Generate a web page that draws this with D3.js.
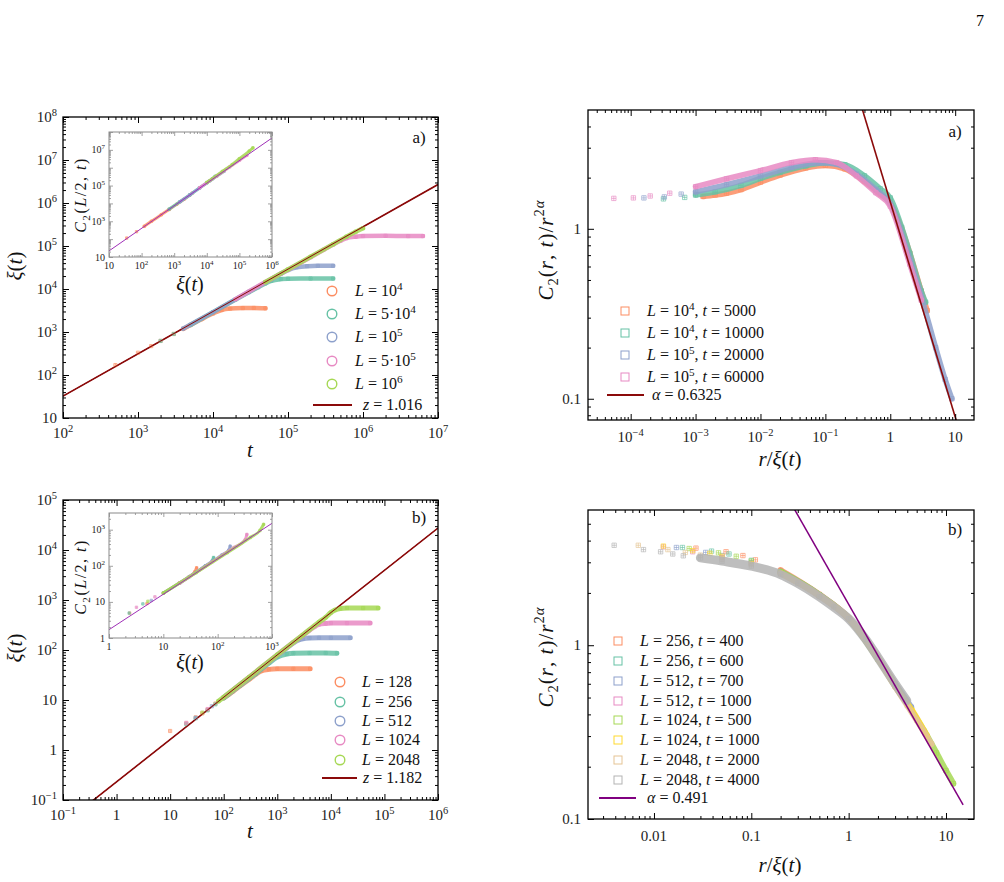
<!DOCTYPE html>
<html>
<head>
<meta charset="utf-8">
<script src="https://cdn.jsdelivr.net/npm/d3@7"></script>
<style>
  html, body { margin: 0; padding: 0; background: #fff; }
  svg { display: block; }
  svg text { font-family: "Liberation Serif", "Times New Roman", "DejaVu Serif", serif; }
</style>
</head>
<body>
<script>
// Set2-like palette, in the order the legends use it
var COLORS = ['#fc8d62', '#66c2a5', '#8da0cb', '#e78ac3', '#a6d854', '#ffd92f', '#e5c494', '#b3b3b3'];

// ---- panel a), left: xi(t) vs t ----
var tlLabels = ['*L* = 10^{4}', '*L* = 5·10^{4}', '*L* = 10^{5}', '*L* = 5·10^{5}', '*L* = 10^{6}'];
var tlL1e4 = [[500,170],[1000,330],[1500,470],[2000,620],[3000,900],[4000,1180],[5000,1450],[7000,1980],[10000,2700],[13000,3250],[17000,3500],[25000,3600],[35000,3620],[50000,3550]];
var tlL5e4 = [[2000,620],[3000,900],[5000,1460],[10000,2900],[20000,5700],[30000,8400],[40000,11000],[50000,13500],[60000,15500],[80000,17000],[100000,17400],[200000,17500],[400000,17500]];
var tlL1e5 = [[4000,1200],[10000,2900],[30000,8600],[60000,17000],[80000,22500],[100000,27500],[130000,32000],[180000,34000],[250000,34500],[400000,34500]];
var tlL5e5 = [[20000,5800],[50000,14500],[100000,28000],[200000,55000],[300000,82000],[400000,108000],[500000,132000],[600000,152000],[800000,165000],[1000000,170000],[2000000,172000],[4000000,170000],[6300000,170000]];
var tlL1e6 = [[50000,14500],[100000,28500],[200000,56000],[400000,110000],[600000,165000],[800000,215000],[1000000,260000]];
var tlFit = { z: 1.016, amp: 0.347 };

// inset of a): C2(L/2,t) vs xi(t)
var tiL1e4 = [[35,115],[70,260],[120,520],[200,1000],[400,2300],[700,4600],[1200,9000],[2000,17000],[3000,29000],[3600,38000]];
var tiL5e4 = [[700,4800],[1500,12500],[3000,30000],[6000,74000],[10000,140000],[15000,240000],[18000,330000]];
var tiL1e5 = [[1500,12500],[3000,30000],[6000,74000],[12000,180000],[20000,330000],[34000,640000]];
var tiL5e5 = [[6000,75000],[20000,340000],[50000,1100000],[100000,2600000],[170000,5000000]];
var tiL1e6 = [[10000,150000],[30000,620000],[60000,1500000],[100000,3200000],[200000,8500000],[260000,13000000]];
var tiFit = { alpha: 0.6325, amp: 1.19 };

// ---- panel a), right: C2(r,t)/r^2a vs r/xi ----
var trLabels = ['*L* = 10^{4}, *t* = 5000', '*L* = 10^{4}, *t* = 10000', '*L* = 10^{5}, *t* = 20000', '*L* = 10^{5}, *t* = 60000'];
var trS1 = [[0.0013,1.55],[0.002,1.58],[0.003,1.62],[0.005,1.7],[0.01,1.88],[0.02,2.07],[0.05,2.28],[0.1,2.36],[0.2,2.25],[0.4,1.9],[0.7,1.6],[1,1.42],[1.5,1.0],[2,0.72],[3,0.43],[3.7,0.33]];
var trS2 = [[0.00032,1.5],[0.00068,1.53],[0.001,1.58],[0.002,1.65],[0.005,1.8],[0.01,1.98],[0.02,2.15],[0.05,2.35],[0.1,2.45],[0.2,2.38],[0.4,2.05],[0.7,1.72],[1,1.52],[1.5,1.02],[2,0.72],[3,0.43],[3.5,0.37]];
var trS3 = [[0.00016,1.52],[0.00033,1.54],[0.0006,1.6],[0.001,1.65],[0.003,1.82],[0.01,2.05],[0.03,2.3],[0.08,2.45],[0.15,2.4],[0.3,2.1],[0.6,1.7],[1,1.4],[2,0.66],[3,0.4],[5,0.2],[7,0.13],[8.9,0.1]];
var trS4 = [[0.000055,1.51],[0.00011,1.52],[0.0002,1.56],[0.0004,1.62],[0.001,1.77],[0.003,1.97],[0.01,2.2],[0.03,2.45],[0.07,2.55],[0.15,2.45],[0.3,2.05],[0.6,1.63],[1,1.36],[2,0.62],[3,0.38]];
var trFit = { alpha: 0.6325, amp: 1.44 };

// ---- panel b), left ----
var blLabels = ['*L* = 128', '*L* = 256', '*L* = 512', '*L* = 1024', '*L* = 2048'];
var blL128 = [[10,2.4],[20,3.4],[30,4.5],[40,5.4],[50,6.4],[70,8.5],[100,11],[150,15],[200,19],[300,26],[400,33],[500,38],[700,41],[1000,42],[2000,42],[4100,42]];
var blL256 = [[20,3.3],[30,4.3],[50,6.2],[70,8.2],[100,11],[200,19.5],[400,34],[700,55],[1000,72],[1500,83],[2000,86],[4000,87],[8000,87],[13000,86]];
var blL512 = [[30,4.4],[60,7.5],[100,11.2],[300,28],[1000,78],[1500,110],[2000,138],[2500,158],[3000,168],[4000,174],[6000,175],[10000,175],[23000,175]];
var blL1024 = [[20,3.5],[50,6.6],[100,11.3],[300,28.5],[1000,80],[2000,142],[3000,198],[4000,250],[5000,295],[6000,325],[8000,340],[10000,345],[20000,345],[54000,345]];
var blL2048 = [[40,5.6],[80,9.5],[100,11.4],[300,28.5],[1000,80],[3000,200],[6000,360],[8000,450],[10000,560],[12000,630],[15000,675],[20000,690],[40000,690],[76000,690]];
var blFit = { z: 1.182, amp: 0.231 };

var biL128 = [[2.4,4.9],[5,9],[10,17.5],[20,34],[30,50],[38,68],[41,88]];
var biL256 = [[2.35,4.9],[4.2,8.8],[10,17.5],[30,50],[60,100],[80,140],[84,170]];
var biL512 = [[6,11],[20,33],[60,100],[120,200],[160,270],[170,350]];
var biL1024 = [[3.2,7.1],[7,13.8],[20,33],[80,130],[200,320],[320,520],[345,740]];
var biL2048 = [[5.2,10.4],[10,17.5],[40,64],[150,230],[400,610],[600,950],[700,1400]];
var biFit = { alpha: 0.491, amp: 1.7 };

// ---- panel b), right ----
var brLabels = ['*L* = 256, *t* = 400', '*L* = 256, *t* = 600', '*L* = 512, *t* = 700', '*L* = 512, *t* = 1000',
  '*L* = 1024, *t* = 500', '*L* = 1024, *t* = 1000', '*L* = 2048, *t* = 2000', '*L* = 2048, *t* = 4000'];
var brS1 = [[0.027,3.62],[0.055,3.45],[0.082,3.28],[0.11,3.1],[0.2,2.7],[0.5,1.96],[1,1.44],[2,0.85],[3,0.6],[3.5,0.52]];
var brS2 = [[0.0196,3.65],[0.039,3.48],[0.059,3.35],[0.1,3.08],[0.2,2.65],[0.5,1.95],[1,1.43],[2,0.84],[2.5,0.7]];
var brS3 = [[0.017,3.65],[0.034,3.42],[0.05,3.28],[0.1,2.98],[0.2,2.62],[0.5,1.93],[1,1.42],[2,0.84],[3,0.6],[4.4,0.44]];
var brS4 = [[0.0125,3.68],[0.025,3.45],[0.05,3.2],[0.1,2.95],[0.2,2.6],[0.5,1.93],[1,1.42],[2,0.84],[3.2,0.56]];
var brS5 = [[0.023,3.6],[0.046,3.4],[0.07,3.25],[0.1,3.05],[0.2,2.65],[0.5,1.95],[1,1.43],[2,0.83],[4,0.46],[6,0.32],[8,0.24],[10,0.19],[11.9,0.16]];
var brS6 = [[0.0125,3.72],[0.025,3.5],[0.0375,3.38],[0.05,3.25],[0.1,2.95],[0.2,2.6],[0.5,1.93],[1,1.43],[2,0.84],[3,0.58],[4.5,0.42],[6.4,0.3]];
var brS7 = [[0.0069,3.76],[0.0139,3.55],[0.021,3.42],[0.03,3.3],[0.05,3.12],[0.1,2.9],[0.2,2.58],[0.3,2.3],[0.5,1.92],[1,1.43],[2,0.84],[3,0.58],[4,0.45],[5,0.37],[7.1,0.27]];
var brS8 = [[0.0039,3.76],[0.0078,3.55],[0.0117,3.45],[0.0156,3.35],[0.02,3.27],[0.03,3.18],[0.05,3.05],[0.1,2.85],[0.2,2.55],[0.3,2.27],[0.5,1.9],[0.7,1.66],[1,1.42],[1.5,1.08],[2,0.85],[3,0.6],[3.95,0.48]];
var brFit = { alpha: 0.491, amp: 1.72 };

var FIT_RED = '#8b0a0a', FIT_PURPLE = '#800080', FIT_INSET = '#a030b8';
var MARK = 'M-2,-2h4v4h-4zM0,-2v4M-2,0h4';

var svg = d3.select('body').append('svg')
  .attr('width', 1004).attr('height', 882);
var defs = svg.append('defs');
var clipN = 0;

// tiny markup: *italic*, ^{sup}, _{sub}
function rich(sel, s, fs) {
  var cur = 0;
  function piece(txt, it, off, size) {
    var t = sel.append('tspan').text(txt);
    if (it) t.attr('font-style', 'italic');
    if (size) t.attr('font-size', size);
    if (off !== cur) { t.attr('dy', off - cur); cur = off; }
  }
  function inner(str, off, size) {
    str.split(/(\*[^*]+\*)/).forEach(function (p) {
      if (!p) return;
      if (p[0] === '*') piece(p.slice(1, -1), true, off, size);
      else piece(p, false, off, size);
    });
  }
  s.split(/(\^\{[^}]*\}|_\{[^}]*\})/).forEach(function (p) {
    if (!p) return;
    if (p.indexOf('^{') === 0) inner(p.slice(2, -1), -fs * 0.42, fs * 0.7);
    else if (p.indexOf('_{') === 0) inner(p.slice(2, -1), fs * 0.25, fs * 0.7);
    else inner(p, 0, null);
  });
}

function expFmt(plain) {
  return function (v) {
    var e = Math.round(Math.log10(v));
    if (plain[e] !== undefined) return plain[e];
    return '10^{' + (e < 0 ? '\u2212' + (-e) : e) + '}';
  };
}

function decades(d) {
  var out = [];
  for (var e = Math.ceil(Math.log10(d[0]) - 1e-9); e <= Math.floor(Math.log10(d[1]) + 1e-9); e++) out.push(Math.pow(10, e));
  return out;
}
function minors(d) {
  var out = [];
  for (var e = Math.floor(Math.log10(d[0])); e < Math.ceil(Math.log10(d[1])); e++) {
    for (var k = 2; k <= 9; k++) {
      var v = k * Math.pow(10, e);
      if (v > d[0] * 1.0001 && v < d[1] * 0.9999) out.push(v);
    }
  }
  return out;
}

function makePanel(c) {
  var x = d3.scaleLog().domain(c.xd).range([c.left, c.left + c.w]);
  var y = d3.scaleLog().domain(c.yd).range([c.top + c.h, c.top]);
  var g = svg.append('g');
  var col = c.color || '#000';
  if (c.bg) g.append('rect').attr('x', c.left).attr('y', c.top).attr('width', c.w).attr('height', c.h).attr('fill', '#fff');

  var id = 'clip' + (++clipN);
  defs.append('clipPath').attr('id', id).append('rect')
    .attr('x', c.left).attr('y', c.top).attr('width', c.w).attr('height', c.h);
  var plot = g.append('g').attr('clip-path', 'url(#' + id + ')');

  var xMaj = c.xMaj || decades(c.xd), yMaj = c.yMaj || decades(c.yd);
  var sides = [
    [d3.axisBottom(x), 'translate(0,' + (c.top + c.h) + ')', xMaj, minors(c.xd)],
    [d3.axisTop(x), 'translate(0,' + c.top + ')', xMaj, minors(c.xd)],
    [d3.axisLeft(y), 'translate(' + c.left + ',0)', yMaj, minors(c.yd)],
    [d3.axisRight(y), 'translate(' + (c.left + c.w) + ',0)', yMaj, minors(c.yd)]
  ];
  sides.forEach(function (s) {
    [[s[2], c.tick], [s[3], c.minor]].forEach(function (tv) {
      var ax = g.append('g').attr('transform', s[1])
        .call(s[0].tickValues(tv[0]).tickSize(-tv[1]).tickSizeOuter(0).tickFormat(''));
      ax.select('.domain').remove();
      ax.selectAll('line').attr('stroke', col).attr('stroke-width', c.tickW || 1);
    });
  });
  g.append('rect').attr('x', c.left).attr('y', c.top).attr('width', c.w).attr('height', c.h)
    .attr('fill', 'none').attr('stroke', col).attr('stroke-width', c.frameW || 1.3);

  (c.xLab || xMaj).forEach(function (v) {
    var t = g.append('text').attr('x', x(v)).attr('y', c.top + c.h + c.xPad)
      .attr('text-anchor', 'middle').attr('font-size', c.fs).attr('fill', '#222');
    rich(t, c.xFmt(v), c.fs);
  });
  (c.yLab || yMaj).forEach(function (v) {
    var t = g.append('text').attr('x', c.left - c.yPad).attr('y', y(v) + c.fs * 0.35)
      .attr('text-anchor', 'end').attr('font-size', c.fs).attr('fill', '#222');
    rich(t, c.yFmt(v), c.fs);
  });
  return { x: x, y: y, plot: plot, g: g };
}

function series(p, data, color, bandFrom, bandW, markScale) {
  var line = d3.line().x(function (d) { return p.x(d[0]); }).y(function (d) { return p.y(d[1]); })
    .curve(d3.curveMonotoneX);
  var dense = data.filter(function (d) { return d[0] >= bandFrom; });
  if (dense.length > 1) {
    p.plot.append('path').attr('d', line(dense)).attr('fill', 'none')
      .attr('stroke', color).attr('stroke-width', bandW).attr('stroke-opacity', 0.85)
      .attr('stroke-linecap', 'round').attr('stroke-linejoin', 'round');
  }
  p.plot.selectAll(null).data(data).enter().append('path')
    .attr('d', MARK)
    .attr('transform', function (d) { return 'translate(' + p.x(d[0]) + ',' + p.y(d[1]) + ') scale(' + markScale + ')'; })
    .attr('fill', 'none').attr('stroke', color).attr('stroke-width', 0.8 / markScale).attr('stroke-opacity', 0.8);
}

function fitLine(p, x0, x1, f, color, w) {
  p.plot.append('path')
    .attr('d', d3.line()([[p.x(x0), p.y(f(x0))], [p.x(x1), p.y(f(x1))]]))
    .attr('stroke', color).attr('stroke-width', w).attr('fill', 'none');
}

function label(x, y, s, fs, rot, anchor) {
  var t = svg.append('text').attr('font-size', fs).attr('fill', '#111')
    .attr('text-anchor', anchor || 'middle');
  if (rot) t.attr('transform', 'translate(' + x + ',' + y + ') rotate(-90)');
  else t.attr('x', x).attr('y', y);
  rich(t, s, fs);
  return t;
}

function legend(items, sx, tx, ys, fs, kind, fitRow) {
  items.forEach(function (it, i) {
    if (kind === 'circle') {
      svg.append('circle').attr('cx', sx).attr('cy', ys[i]).attr('r', 4.8)
        .attr('fill', 'none').attr('stroke', it.color).attr('stroke-width', 1.4);
    } else {
      svg.append('rect').attr('x', sx - 4).attr('y', ys[i] - 4).attr('width', 8).attr('height', 8)
        .attr('fill', 'none').attr('stroke', it.color).attr('stroke-width', 1);
    }
    label(tx, ys[i] + fs * 0.33, it.text, fs, false, 'start');
  });
  svg.append('line').attr('x1', fitRow.x1).attr('x2', fitRow.x2).attr('y1', fitRow.y).attr('y2', fitRow.y)
    .attr('stroke', fitRow.color).attr('stroke-width', 1.8);
  label(fitRow.tx, fitRow.y + fs * 0.33, fitRow.text, fs, false, 'start');
}

// ================= top-left =================
var tl = makePanel({ left: 63, top: 117, w: 375, h: 301, xd: [1e2, 1e7], yd: [10, 1e8],
  tick: 6, minor: 3, fs: 15, xPad: 20, yPad: 6,
  xFmt: expFmt({}), yFmt: expFmt({ 1: '10' }) });
fitLine(tl, 1e2, 1e7, function (t) { return tlFit.amp * Math.pow(t, 1 / tlFit.z); }, FIT_RED, 1.6);
[tlL1e4, tlL5e4, tlL1e5, tlL5e5, tlL1e6].forEach(function (d, i) { series(tl, d, COLORS[i], 4000, 4.5, 0.8); });
fitLine(tl, 1e2, 1e7, function (t) { return tlFit.amp * Math.pow(t, 1 / tlFit.z); }, FIT_RED, 1.0);

var ti = makePanel({ left: 109, top: 132, w: 163, h: 125, xd: [10, 1e6], yd: [10, 1e8], bg: true,
  color: '#8a8a8a', tick: 4, minor: 2, tickW: 0.8, frameW: 1, fs: 10, xPad: 12, yPad: 4,
  yLab: [10, 1e3, 1e5, 1e7],
  xFmt: expFmt({ 1: '10' }), yFmt: expFmt({ 1: '10' }) });
[tiL1e4, tiL5e4, tiL1e5, tiL5e5, tiL1e6].forEach(function (d, i) { series(ti, d, COLORS[i], 100, 3, 0.6); });
fitLine(ti, 10, 1e6, function (v) { return tiFit.amp * Math.pow(v, 2 * tiFit.alpha); }, FIT_INSET, 1);

label(250, 457, '*t*', 21);
label(22, 266, '*ξ*(*t*)', 21, true);
label(190, 291, '*ξ*(*t*)', 20);
label(86, 195, '*C*_{2}(*L*/2, *t*)', 16, true).attr('letter-spacing', 1.5);
label(419, 143, 'a)', 17);
legend(tlLabels.map(function (s, i) { return { text: s, color: COLORS[i] }; }),
  332, 355, [291, 314, 337, 361, 384], 16, 'circle',
  { x1: 313, x2: 352, y: 405, tx: 363, text: '*z* = 1.016', color: FIT_RED });

// ================= top-right =================
var tr = makePanel({ left: 588, top: 110, w: 386, h: 310, xd: [2.2e-5, 19.5], yd: [0.075, 5.0],
  yMaj: [0.1, 1], tick: 6, minor: 3, fs: 15, xPad: 22, yPad: 7,
  xFmt: expFmt({ 0: '1', 1: '10' }), yFmt: expFmt({ 0: '1', '-1': '0.1' }) });
[trS1, trS2, trS3, trS4].forEach(function (d, i) { series(tr, d, COLORS[i], 0.0008, 5.5, 1.1); });
fitLine(tr, 2.2e-5, 19.5, function (v) { return trFit.amp * Math.pow(v, -2 * trFit.alpha); }, FIT_RED, 1.6);
label(780, 466, '*r*/*ξ*(*t*)', 21);
label(553, 250, '*C*_{2}(*r*, *t*)/*r*^{2*α*}', 21, true).attr('letter-spacing', 1);
label(955, 137, 'a)', 17);
legend(trLabels.map(function (s, i) { return { text: s, color: COLORS[i] }; }),
  625, 647, [311, 333, 355, 377], 16, 'square',
  { x1: 607, x2: 644, y: 395, tx: 652, text: '*α* = 0.6325', color: FIT_RED });

// ================= bottom-left =================
var bl = makePanel({ left: 63, top: 500, w: 375, h: 300, xd: [0.1, 1e6], yd: [0.1, 1e5],
  tick: 6, minor: 3, fs: 15, xPad: 20, yPad: 6,
  xFmt: expFmt({ 0: '1', 1: '10' }), yFmt: expFmt({ 0: '1', 1: '10' }) });
fitLine(bl, 0.1, 1e6, function (t) { return blFit.amp * Math.pow(t, 1 / blFit.z); }, FIT_RED, 1.6);
[blL128, blL256, blL512, blL1024, blL2048].forEach(function (d, i) { series(bl, d, COLORS[i], 80, 5, 0.8); });
fitLine(bl, 0.1, 1e6, function (t) { return blFit.amp * Math.pow(t, 1 / blFit.z); }, FIT_RED, 1.0);

var bi = makePanel({ left: 109, top: 513, w: 163, h: 125, xd: [1, 1e3], yd: [1, 2900], bg: true,
  color: '#8a8a8a', tick: 4, minor: 2, tickW: 0.8, frameW: 1, fs: 10, xPad: 12, yPad: 4,
  xFmt: expFmt({ 0: '1', 1: '10' }), yFmt: expFmt({ 0: '1', 1: '10' }) });
[biL128, biL256, biL512, biL1024, biL2048].forEach(function (d, i) { series(bi, d, COLORS[i], 10, 3, 0.6); });
fitLine(bi, 1, 1e3, function (v) { return biFit.amp * Math.pow(v, 2 * biFit.alpha); }, FIT_INSET, 1);

label(250, 838, '*t*', 21);
label(22, 648, '*ξ*(*t*)', 21, true);
label(190, 669, '*ξ*(*t*)', 20);
label(86, 577, '*C*_{2}(*L*/2, *t*)', 16, true).attr('letter-spacing', 1.5);
label(419, 523, 'b)', 17);
legend(blLabels.map(function (s, i) { return { text: s, color: COLORS[i] }; }),
  340, 362, [682, 702, 721, 740, 760], 16, 'circle',
  { x1: 322, x2: 357, y: 778, tx: 363, text: '*z* = 1.182', color: FIT_RED });

// ================= bottom-right =================
var br = makePanel({ left: 588, top: 510, w: 386, h: 309, xd: [0.0021, 19.4], yd: [0.1, 6],
  yMaj: [0.1, 1], tick: 6, minor: 3, fs: 15, xPad: 22, yPad: 7,
  xFmt: expFmt({ '-2': '0.01', '-1': '0.1', 0: '1', 1: '10' }), yFmt: expFmt({ 0: '1', '-1': '0.1' }) });
[brS1, brS2, brS3, brS4, brS5, brS6, brS7].forEach(function (d, i) { series(br, d, COLORS[i], 0.15, 6, 1.1); });
series(br, brS8, COLORS[7], 0.03, 9, 1.1);
fitLine(br, 0.2, 15, function (v) { return brFit.amp * Math.pow(v, -2 * brFit.alpha); }, FIT_PURPLE, 1.5);
label(780, 872, '*r*/*ξ*(*t*)', 21);
label(553, 657, '*C*_{2}(*r*, *t*)/*r*^{2*α*}', 21, true).attr('letter-spacing', 1);
label(955, 535, 'b)', 17);
legend(brLabels.map(function (s, i) { return { text: s, color: COLORS[i] }; }),
  618, 640, [641, 661, 681, 701, 720, 740, 760, 780], 16, 'square',
  { x1: 599, x2: 636, y: 798, tx: 647, text: '*α* = 0.491', color: FIT_PURPLE });

// page number
svg.append('text').attr('x', 984).attr('y', 26).attr('text-anchor', 'end').attr('font-size', 16).text('7');
</script>
</body>
</html>
